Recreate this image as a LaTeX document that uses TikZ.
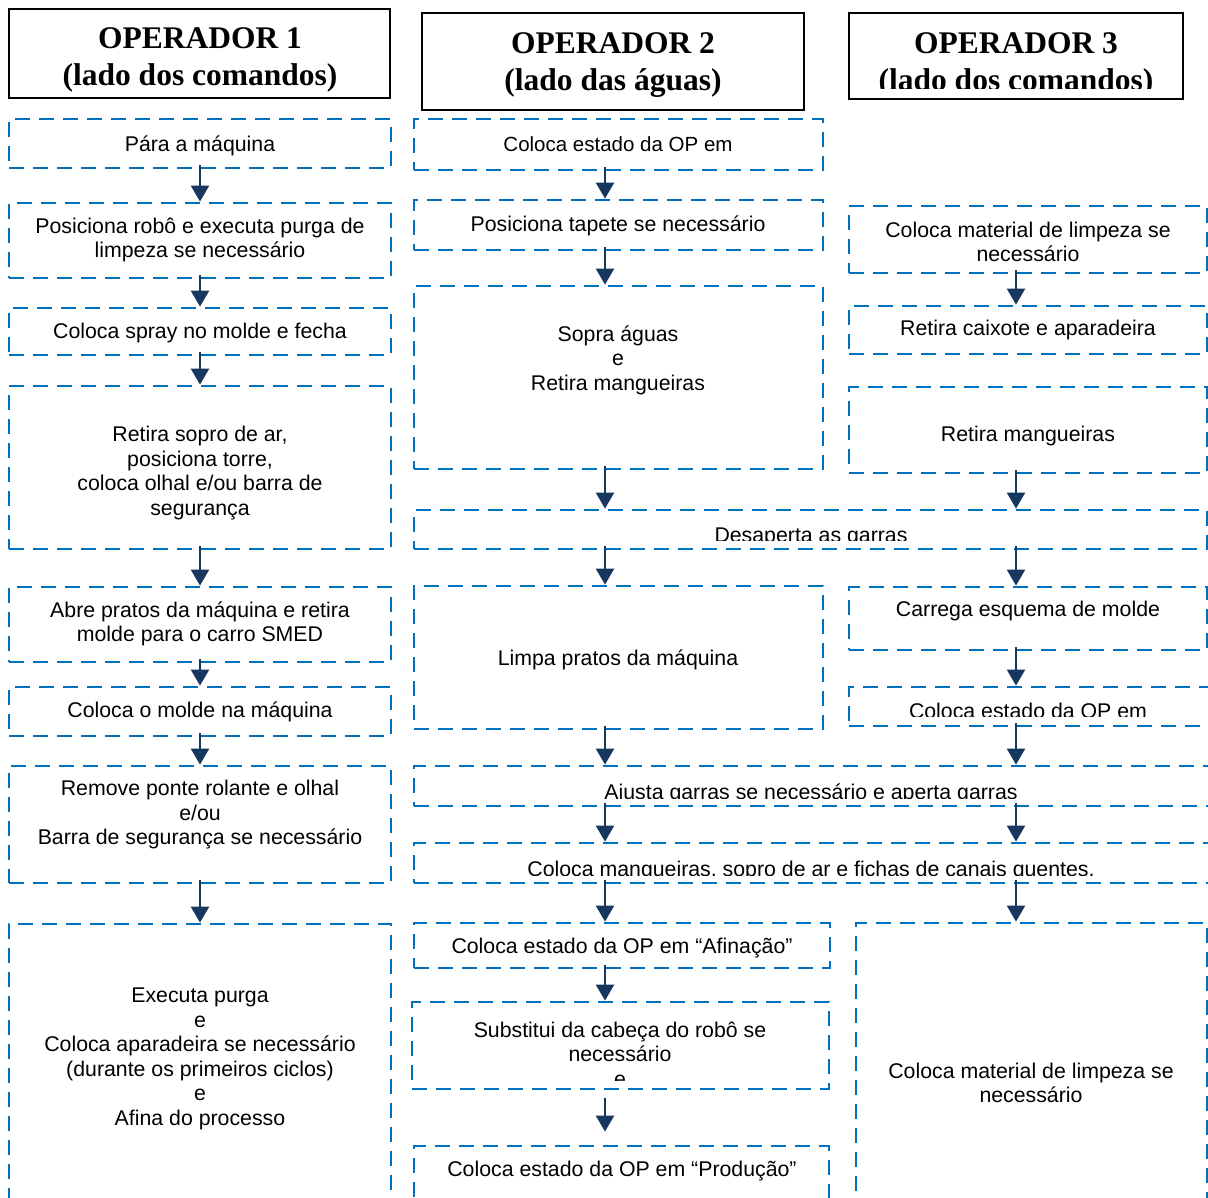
\documentclass[tikz,border=0pt]{standalone}
\usepackage{fontspec}
\setmainfont{Liberation Sans}
\newfontfamily\headfont{Liberation Serif}
\usetikzlibrary{arrows.meta}
\definecolor{boxblue}{HTML}{0070C0}
\definecolor{arrownavy}{HTML}{17375E}

\tikzset{
  dbox/.style={draw=boxblue, line width=2.8pt, dash pattern=on 15pt off 9pt,
               rectangle, inner sep=0pt},
  hbox/.style={draw=black, line width=2.2pt, fill=white, rectangle, inner sep=0pt},
  txt/.style={font=\fontsize{21.3}{24.5}\selectfont, align=center, inner sep=0pt, text=black},
  htxt/.style={font=\headfont\bfseries\fontsize{31.5}{37}\selectfont, align=center,
               inner sep=0pt, text=black},
  flow/.style={draw=arrownavy, line width=2.4pt, -{Triangle[length=16pt,width=18pt]},
               shorten <=-4pt},
}

% box from its corners: name, x1, y1, x2, y2 (y grows downward)
\newcommand\stepbx[6][dbox]{%
  \node[#1, minimum width={#5-#3}, minimum height={#6-#4}] (#2)
    at ({(#3+#5)/2},{(#4+#6)/2}) {};}

\begin{document}
\begin{tikzpicture}[x=1pt,y=-1pt]
\useasboundingbox (0,0) rectangle (1208,1198);
\fill[white] (0,0) rectangle (1208,1198);
\clip (0,0) rectangle (1208,1198);

% arrow columns
\coordinate (k1) at (200,0);
\coordinate (k2) at (605,0);
\coordinate (k3) at (1016,0);

% ---- headers
\stepbx[hbox]{h1}{9}{9}{390}{98}
\stepbx[hbox]{h2}{422}{13}{804}{110}
\stepbx[hbox]{h3}{849}{13}{1183}{99}

% ---- operator 1
\stepbx{a1}{9}{119}{391}{168}
\stepbx{a2}{9}{203}{391}{278}
\stepbx{a3}{9}{308}{391}{355}
\stepbx{a4}{9}{386}{391}{549}
\stepbx{a5}{9}{587}{391}{662}
\stepbx{a6}{9}{687}{391}{736}
\stepbx{a7}{9}{766}{391}{883}
\stepbx{a8}{9}{924}{391}{1240}

% ---- operator 2 and shared steps
\stepbx{b1}{414}{119}{823}{170}
\stepbx{b2}{414}{200}{823}{250}
\stepbx{b3}{414}{286}{823}{469}
\stepbx{w1}{414}{510}{1207}{549}
\stepbx{b5}{414}{586}{823}{729}
\stepbx{w2}{414}{766}{1240}{806}
\stepbx{w3}{414}{843}{1240}{883}
\stepbx{b8}{414}{923}{830}{968}
\stepbx{b9}{412}{1002}{829}{1089}
\stepbx{b10}{414}{1146}{829}{1240}

% ---- operator 3
\stepbx{c1}{849}{206}{1207}{273}
\stepbx{c2}{849}{306}{1207}{354}
\stepbx{c3}{849}{387}{1207}{473}
\stepbx{c5}{849}{587}{1207}{650}
\stepbx{c6}{849}{687}{1240}{726}
\stepbx{c9}{856}{923}{1207}{1240}

% ---- header texts
\node[htxt, anchor=base] (h1t) at (200,86) {OPERADOR 1\\(lado dos comandos)};
\node[htxt, anchor=base] (h2t) at (613,91) {OPERADOR 2\\(lado das águas)};
\begin{scope}
  \clip (h3.north west) rectangle ([yshift=12pt]h3.south east);
  \node[htxt, anchor=base] (h3t) at (1016,91) {OPERADOR 3\\(lado dos comandos)};
\end{scope}

% ---- step texts, operator 1
\node[txt] (a1t) at (200,146) {Pára a máquina};
\node[txt] (a2t) at (200,240) {Posiciona robô e executa purga de\\limpeza se necessário};
\node[txt] (a3t) at (200,333) {Coloca spray no molde e fecha};
\node[txt] (a4t) at (200,473) {Retira sopro de ar,\\posiciona torre,\\coloca olhal e/ou barra de\\segurança};
\node[txt] (a5t) at (200,624) {Abre pratos da máquina e retira\\molde para o carro SMED};
\node[txt] (a6t) at (200,712) {Coloca o molde na máquina};
\node[txt] (a7t) at (200,815) {Remove ponte rolante e olhal\\e/ou\\Barra de segurança se necessário};
\node[txt] (a8t) at (200,1059) {Executa purga\\e\\Coloca aparadeira se necessário\\(durante os primeiros ciclos)\\e\\Afina do processo};

% ---- step texts, operator 2
\node[txt, font=\fontsize{20.5}{24.5}\selectfont] (b1t) at (618,144) {Coloca estado da OP em};
\node[txt] (b2t) at (618,226) {Posiciona tapete se necessário};
\node[txt] (b3t) at (618,360) {Sopra águas\\e\\Retira mangueiras};
\begin{scope}
  \clip (w1.north west) rectangle ([yshift=10pt]w1.south east);
  \node[txt, anchor=base] (w1t) at (811,542) {Desaperta as garras};
\end{scope}
\node[txt] (b5t) at (618,660) {Limpa pratos da máquina};
\begin{scope}
  \clip (w2.north west) rectangle ([yshift=9pt]w2.south east);
  \node[txt, anchor=base] (w2t) at (811,799) {Ajusta garras se necessário e aperta garras};
\end{scope}
\begin{scope}
  \clip (w3.north west) rectangle ([yshift=9pt]w3.south east);
  \node[txt, anchor=base] (w3t) at (811,876) {Coloca mangueiras, sopro de ar e fichas de canais quentes.};
\end{scope}
\node[txt] (b8t) at (622,948) {Coloca estado da OP em “Afinação”};
\begin{scope}
  \clip (b9.north west) rectangle ([yshift=10pt]b9.south east);
  \node[txt, anchor=base] (b9t) at (620,1086) {Substitui da cabeça do robô se\\necessário\\e};
\end{scope}
\node[txt] (b10t) at (622,1171) {Coloca estado da OP em “Produção”};

% ---- step texts, operator 3
\node[txt] (c1t) at (1028,242) {Coloca material de limpeza se\\necessário};
\node[txt] (c2t) at (1028,330) {Retira caixote e aparadeira};
\node[txt] (c3t) at (1028,436) {Retira mangueiras};
\node[txt] (c5t) at (1028,611) {Carrega esquema de molde};
\begin{scope}
  \clip (c6.north west) rectangle ([yshift=11pt]c6.south east);
  \node[txt, anchor=base] (c6t) at (1028,718) {Coloca estado da OP em};
\end{scope}
\node[txt] (c9t) at (1031,1083) {Coloca material de limpeza se\\necessário};

% ---- flow, operator 1
\draw[flow] (a1.south -| k1) -- (a2.north -| k1);
\draw[flow] (a2.south -| k1) -- (a3.north -| k1);
\draw[flow] (a3.south -| k1) -- (a4.north -| k1);
\draw[flow] (a4.south -| k1) -- (a5.north -| k1);
\draw[flow] (a5.south -| k1) -- (a6.north -| k1);
\draw[flow] (a6.south -| k1) -- (a7.north -| k1);
\draw[flow] (a7.south -| k1) -- (a8.north -| k1);

% ---- flow, operator 2
\draw[flow] (b1.south -| k2) -- (b2.north -| k2);
\draw[flow] (b2.south -| k2) -- (b3.north -| k2);
\draw[flow] (b3.south -| k2) -- (w1.north -| k2);
\draw[flow] (w1.south -| k2) -- (b5.north -| k2);
\draw[flow] (b5.south -| k2) -- (w2.north -| k2);
\draw[flow] (w2.south -| k2) -- (w3.north -| k2);
\draw[flow] (w3.south -| k2) -- (b8.north -| k2);
\draw[flow] (b8.south -| k2) -- (b9.north -| k2);
\draw[flow, shorten <=8pt, shorten >=13pt] (b9.south -| k2) -- (b10.north -| k2);

% ---- flow, operator 3
\draw[flow] (c1.south -| k3) -- (c2.north -| k3);
\draw[flow] (c3.south -| k3) -- (w1.north -| k3);
\draw[flow] (w1.south -| k3) -- (c5.north -| k3);
\draw[flow] (c5.south -| k3) -- (c6.north -| k3);
\draw[flow] (c6.south -| k3) -- (w2.north -| k3);
\draw[flow] (w2.south -| k3) -- (w3.north -| k3);
\draw[flow] (w3.south -| k3) -- (c9.north -| k3);
\end{tikzpicture}
\end{document}
